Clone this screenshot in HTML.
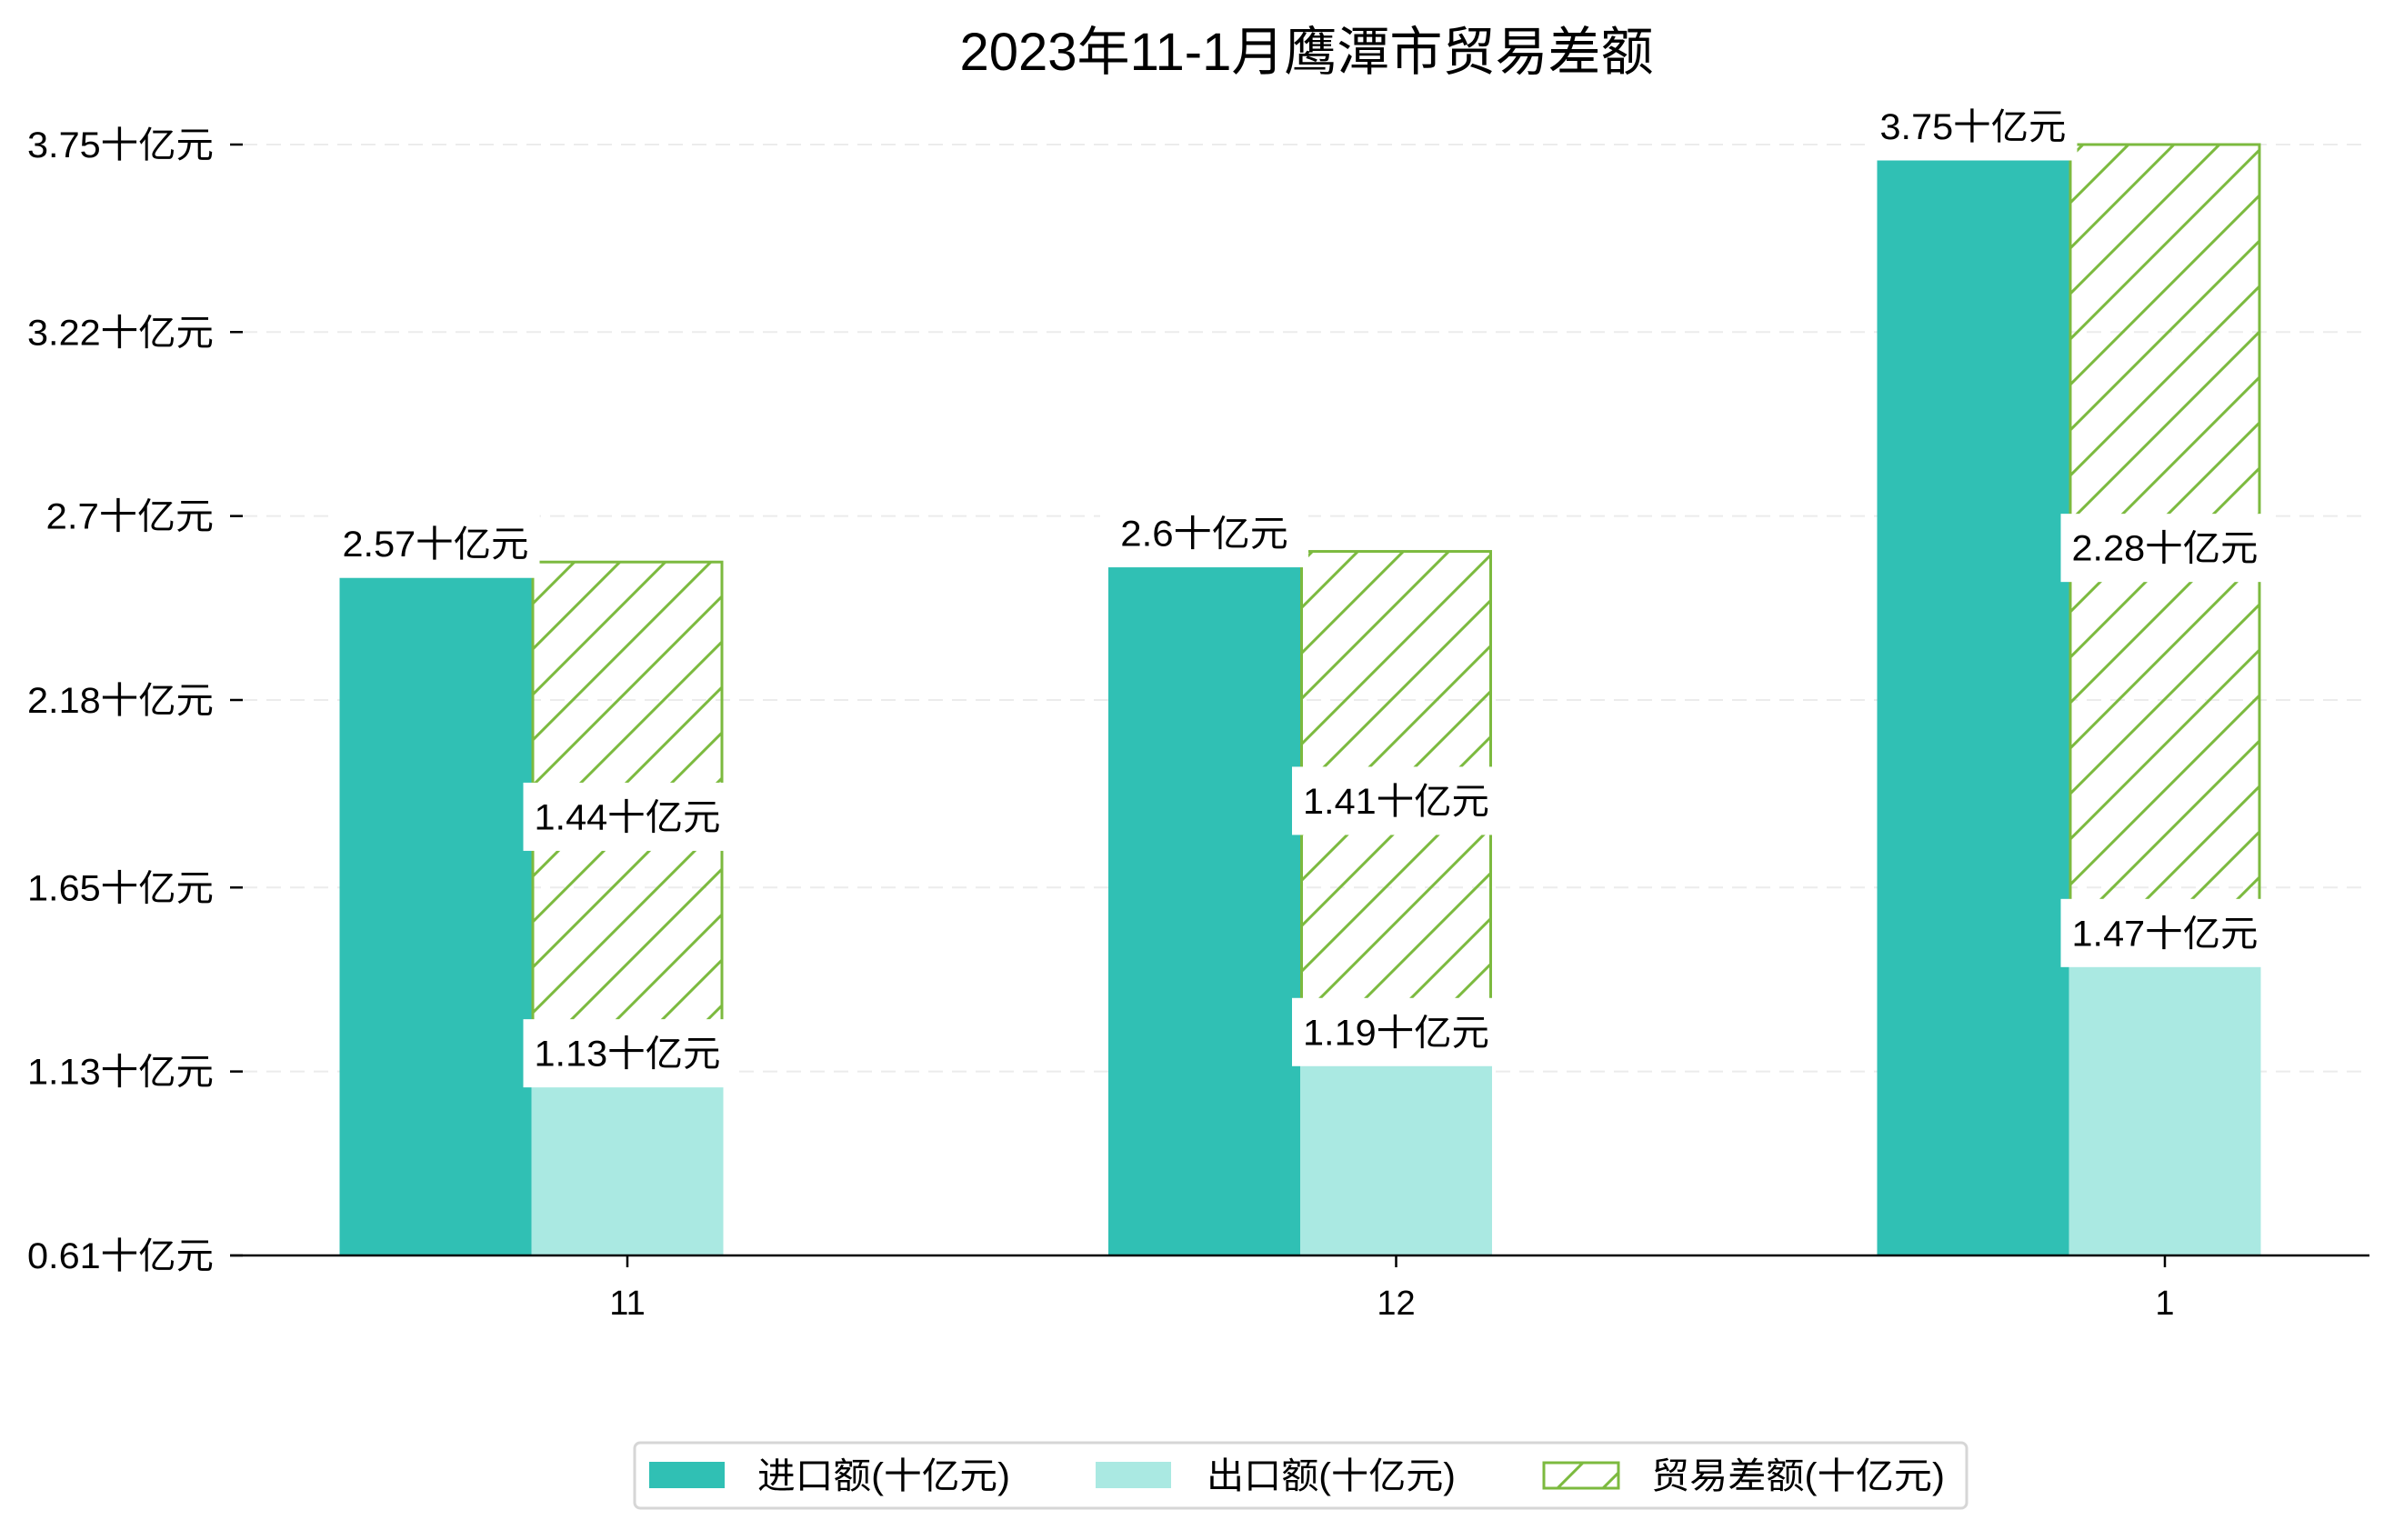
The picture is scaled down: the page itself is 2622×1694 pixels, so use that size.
<!DOCTYPE html>
<html><head><meta charset="utf-8"><style>
html,body{margin:0;padding:0;background:#fff;}
svg text{font-family:"Liberation Sans","Noto Sans CJK SC",sans-serif;fill:#000;}
</style></head><body>
<svg id="chart" width="2622" height="1689" viewBox="0 0 2622 1689" xmlns="http://www.w3.org/2000/svg">
<defs>
<pattern id="hatch" patternUnits="userSpaceOnUse" width="50" height="50">
<path d="M-5,5 L5,-5 M0,50 L50,0 M45,55 L55,45" stroke="#7cba3f" stroke-width="3"/>
</pattern>
</defs>
<g id="grid"></g>
<g id="bars"></g>
<g id="axes"></g>
<g id="labels"></g>
<text x="1437" y="77" font-size="58" text-anchor="middle" textLength="763" lengthAdjust="spacingAndGlyphs">2023年11-1月鹰潭市贸易差额</text>
<g>
<rect x="698" y="1587" width="1465" height="72" rx="6" fill="#fff" stroke="#d6d6d6" stroke-width="3"/>
<g>
<rect x="714" y="1608" width="83" height="29" fill="#30c0b4"/>
<text x="833" y="1637" font-size="40" textLength="278" lengthAdjust="spacingAndGlyphs">进口额(十亿元)</text>
</g>
<g>
<rect x="1205" y="1608" width="83" height="29" fill="#aae9e2"/>
<text x="1327" y="1637" font-size="40" textLength="274" lengthAdjust="spacingAndGlyphs">出口额(十亿元)</text>
</g>
<g>
<rect x="1698" y="1609" width="82" height="28" fill="url(#hatch)" stroke="#7cba3f" stroke-width="3"/>
<text x="1816" y="1637" font-size="40" textLength="323" lengthAdjust="spacingAndGlyphs">贸易差额(十亿元)</text>
</g>
</g>
</svg>
<script>
const categories = ["11", "12", "1"];
const importValues = [2.57, 2.6, 3.75];
const exportValues = [1.13, 1.19, 1.47];
const balanceValues = [1.44, 1.41, 2.28];
const yTickValues = [0.61, 1.13, 1.65, 2.18, 2.7, 3.22, 3.75];
const yTickLabels = ["0.61十亿元", "1.13十亿元", "1.65十亿元", "2.18十亿元", "2.7十亿元", "3.22十亿元", "3.75十亿元"];

const NS = "http://www.w3.org/2000/svg";
const plotLeft = 253, plotRight = 2606, baseY = 1381;
const yMin = 0.61, yMax = 3.75, yTopPx = 159;
const barW = 211, solidOffset = 17;
function y(v){ return baseY - (v - yMin) / (yMax - yMin) * (baseY - yTopPx); }
function x(i){ return 690 + i * 845.5; }
function textLen(s, fs){ let w=0; for(const c of s){ w += /[\x00-\x7f]/.test(c) ? 0.5 : 1; } return w*fs; }
function mk(tag, attrs, parent){ const e=document.createElementNS(NS,tag); for(const k in attrs) e.setAttribute(k, attrs[k]); parent.appendChild(e); return e; }

const grid = document.getElementById('grid');
const axes = document.getElementById('axes');
const bars = document.getElementById('bars');
const labels = document.getElementById('labels');

yTickValues.forEach((v, i) => {
  if (i > 0) {
    const g = mk('line', {x1: 267, x2: plotRight, y1: y(v), y2: y(v), stroke: '#ececec', 'stroke-width': 2, 'stroke-dasharray': '16,10'}, grid);
    
    
  }
  const t = mk('line', {x1: 253, x2: 267, y1: y(v), y2: y(v), stroke: '#000', 'stroke-width': 2.5}, axes);
  
  
  const lbl = mk('text', {x: 235, y: y(v) + 14, 'font-size': 40, 'text-anchor': 'end', textLength: textLen(yTickLabels[i], 41), lengthAdjust: 'spacingAndGlyphs'}, axes);
  lbl.textContent = yTickLabels[i];
  
  
});

function labelBox(text, cx, cy, name){
  const w = 229, h = 75;
  const r = mk('rect', {x: cx - w/2, y: cy - h/2, width: w, height: h, fill: '#fff'}, labels);
  
  
  const t = mk('text', {x: cx, y: cy + 14, 'font-size': 40, 'text-anchor': 'middle', textLength: textLen(text, 41), lengthAdjust: 'spacingAndGlyphs'}, labels);
  t.textContent = text;
  
  
}

categories.forEach((c, i) => {
  const cx = x(i);
  const impTop = y(importValues[i]) + solidOffset;
  const imp = mk('rect', {x: cx - 1.5*barW, y: impTop, width: barW, height: baseY - impTop, fill: '#30c0b4'}, bars);
  
  
  const expTop = y(exportValues[i]) + solidOffset;
  const exp = mk('rect', {x: cx - 0.5*barW, y: expTop, width: barW, height: baseY - expTop, fill: '#aae9e2'}, bars);
  
  
  const bTop = y(exportValues[i] + balanceValues[i]);
  const bBot = y(exportValues[i]);
  const bal = mk('rect', {x: cx - 0.5*barW + 1.5, y: bTop, width: barW - 3, height: bBot - bTop, fill: 'url(#hatch)', stroke: '#7cba3f', 'stroke-width': 3}, bars);
  
  

  labelBox(importValues[i] + '十亿元', cx - barW, impTop - 37, 'import-label-' + c);
  labelBox(balanceValues[i] + '十亿元', cx, (bTop + bBot) / 2, 'balance-label-' + c);
  labelBox(exportValues[i] + '十亿元', cx, expTop - 37, 'export-label-' + c);

  const tk = mk('line', {x1: cx, x2: cx, y1: baseY, y2: baseY + 13, stroke: '#000', 'stroke-width': 2.5}, axes);
  
  
  const tl = mk('text', {x: cx, y: 1446, 'font-size': 38, 'text-anchor': 'middle'}, axes);
  tl.textContent = c;
  
  
});

const ax = mk('line', {x1: plotLeft, x2: plotRight, y1: baseY, y2: baseY, stroke: '#000', 'stroke-width': 2.5}, axes);


</script>
</body></html>
